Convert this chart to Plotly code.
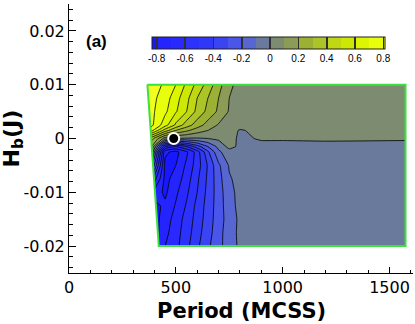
import plotly.graph_objects as go

# ---------------- data ----------------
hb_rows = [-0.02, -0.0175, -0.015, -0.0125, -0.01, -0.0075, -0.005, -0.0025,
           -0.0015, 0.0, 0.0015, 0.0025, 0.005, 0.0075, 0.01]
# left edge of the simulated domain (period) for each H_b row
left_period = [420, 416, 411, 407, 402, 398, 394, 389, 387, 385, 382, 380, 376, 371, 367]
# remaining period columns (common to all rows)
period_cols = [450, 500, 550, 600, 650, 700, 750, 800, 900, 1000, 1200, 1575]

# order parameter, one row per H_b value, first entry = left edge column
z_rows = [
    [-0.80, -0.70, -0.63, -0.53, -0.42, -0.32, -0.23, -0.15, -0.08, -0.05, -0.05, -0.05, -0.05],
    [-0.81, -0.73, -0.64, -0.55, -0.44, -0.34, -0.24, -0.14, -0.08, -0.05, -0.05, -0.05, -0.05],
    [-0.82, -0.75, -0.66, -0.56, -0.46, -0.35, -0.25, -0.15, -0.08, -0.05, -0.05, -0.05, -0.05],
    [-0.82, -0.78, -0.69, -0.59, -0.47, -0.36, -0.25, -0.14, -0.07, -0.05, -0.05, -0.05, -0.05],
    [-0.75, -0.82, -0.72, -0.62, -0.50, -0.37, -0.25, -0.13, -0.07, -0.05, -0.05, -0.05, -0.05],
    [-0.55, -0.83, -0.76, -0.65, -0.52, -0.38, -0.24, -0.11, -0.07, -0.05, -0.05, -0.05, -0.05],
    [-0.25, -0.83, -0.80, -0.68, -0.55, -0.39, -0.22, -0.09, -0.06, -0.05, -0.05, -0.05, -0.05],
    [0.05, -0.78, -0.83, -0.72, -0.55, -0.32, -0.12, -0.04, -0.04, -0.04, -0.04, -0.04, -0.04],
    [0.20, -0.50, -0.60, -0.50, -0.35, -0.20, -0.07, 0.03, -0.02, -0.03, -0.03, -0.03, -0.03],
    [0.35, 0.05, 0.00, -0.01, -0.01, 0.00, 0.02, 0.04, -0.02, 0.01, 0.01, 0.015, 0.01],
    [0.75, 0.45, 0.30, 0.22, 0.15, 0.10, 0.06, 0.05, -0.01, 0.03, 0.04, 0.04, 0.04],
    [0.84, 0.64, 0.48, 0.35, 0.25, 0.16, 0.09, 0.07, 0.05, 0.05, 0.05, 0.05, 0.05],
    [0.84, 0.72, 0.61, 0.50, 0.37, 0.27, 0.18, 0.09, 0.07, 0.06, 0.06, 0.06, 0.06],
    [0.85, 0.75, 0.64, 0.53, 0.40, 0.30, 0.20, 0.10, 0.07, 0.06, 0.06, 0.06, 0.06],
    [0.84, 0.79, 0.70, 0.58, 0.47, 0.36, 0.24, 0.12, 0.07, 0.06, 0.06, 0.06, 0.06],
]

marker_period = [490]
marker_hb = [0.0]

x_tickvals = [0, 500, 1000, 1500]
x_ticktext = ["0", "500", "1000", "1500"]
y_tickvals = [-0.02, -0.01, 0, 0.01, 0.02]
y_ticktext = ["-0.02", "-0.01", "0", "0.01", "0.02"]
cb_tickvals = [-0.8, -0.6, -0.4, -0.2, 0, 0.2, 0.4, 0.6, 0.8]
cb_ticktext = ["-0.8", "-0.6", "-0.4", "-0.2", "0", "0.2", "0.4", "0.6", "0.8"]

# contour levels and legend range
lev_start, lev_end, lev_size = -0.8, 0.8, 0.1
z_lo, z_hi = -0.835, 0.81
# colours of the filled bands, from lowest (< -0.8) to highest (> 0.8)
band_colors = ["#1818ff", "#2424ff", "#2828ff", "#2c32fc", "#3038f8", "#3a44f2",
               "#4a55ea", "#5866d2", "#6a7a9c", "#7d8b70", "#8c9c56", "#9cb034",
               "#acc428", "#c0d814", "#cce804", "#dcf600", "#e8fe0c", "#f0ff20"]
legend_line_color = "#303030"

# ---------------- build figure ----------------
n = len(band_colors)
colorscale = [[i / (n - 1), c] for i, c in enumerate(band_colors)]

span = z_hi - z_lo
half = 0.006
band_edges = [lev_start + k * lev_size for k in range(n - 1)]  # -0.8 .. 0.8


def band_color(v):
    k = 0
    for e in band_edges:
        if v >= e:
            k += 1
    return band_colors[k]


brk = {z_lo, z_hi}
brk.update(e for e in band_edges if z_lo < e < z_hi)
for t in cb_tickvals:
    for v in (t - half, t + half):
        if z_lo < v < z_hi:
            brk.add(v)
brk = sorted(brk)
legend_scale = []
for v0, v1 in zip(brk[:-1], brk[1:]):
    mid = 0.5 * (v0 + v1)
    c = legend_line_color if any(abs(mid - t) < half for t in cb_tickvals) else band_color(mid)
    legend_scale.append([(v0 - z_lo) / span, c])
    legend_scale.append([(v1 - z_lo) / span, c])
legend_scale[0][0] = 0.0
legend_scale[-1][0] = 1.0

grid_x = [[lp] + period_cols for lp in left_period]
grid_y = [[h] * (len(period_cols) + 1) for h in hb_rows]
a_idx = list(range(len(period_cols) + 1))

hidden_axis = dict(showgrid=False, showline=False, showticklabels="none",
                   startline=False, endline=False, minorgridcount=0,
                   smoothing=0, gridcolor="rgba(0,0,0,0)",
                   linecolor="rgba(0,0,0,0)")

# plot-area geometry (pixels) used to place the legend bar
ml, mr, mt, mb = 69, 2, 4, 51
W, H = 415, 324
pw, ph = W - ml - mr, H - mt - mb

fig = go.Figure()
fig.add_trace(go.Carpet(
    a=a_idx, b=hb_rows, x=grid_x, y=grid_y, carpet="c1",
    aaxis=hidden_axis, baxis=hidden_axis,
    xaxis="x", yaxis="y",
))
fig.add_trace(go.Contourcarpet(
    a=a_idx, b=hb_rows, z=z_rows, carpet="c1",
    autocontour=False,
    contours=dict(start=lev_start, end=lev_end, size=lev_size,
                  coloring="fill", showlines=True),
    line=dict(color="black", width=0.8, smoothing=0.3),
    colorscale=colorscale, showscale=False,
))

bx = grid_x[-1] + [row[-1] for row in grid_x[::-1]] + grid_x[0][::-1] + [row[0] for row in grid_x]
by = grid_y[-1] + [row[-1] for row in grid_y[::-1]] + grid_y[0][::-1] + [row[0] for row in grid_y]
fig.add_trace(go.Scatter(x=bx, y=by, mode="lines",
                         line=dict(color="#3ee03e", width=2), hoverinfo="skip",
                         showlegend=False))

fig.add_trace(go.Scatter(x=marker_period, y=marker_hb, mode="markers",
                         marker=dict(color="black", size=11,
                                     line=dict(color="white", width=2)),
                         showlegend=False))
fig.add_trace(go.Scatter(
    x=marker_period, y=marker_hb, mode="markers", hoverinfo="skip",
    marker=dict(color=[z_lo], size=1, opacity=0, colorscale=legend_scale,
                cmin=z_lo, cmax=z_hi, showscale=True,
                colorbar=dict(orientation="h",
                              x=(151.7 - ml) / pw, xanchor="left",
                              y=(H - mb - 37) / ph, yanchor="top",
                              lenmode="fraction", len=233 / pw, thickness=12,
                              xpad=0, ypad=0, outlinecolor="#202020", outlinewidth=1,
                              tickmode="array", tickvals=cb_tickvals,
                              ticktext=cb_ticktext, ticks="",
                              tickfont=dict(family="Liberation Sans", size=10,
                                            color="black"))),
    showlegend=False))

fig.update_layout(
    width=W, height=H,
    margin=dict(l=ml, r=mr, t=mt, b=mb, autoexpand=False),
    paper_bgcolor="white", plot_bgcolor="white",
    showlegend=False,
    font=dict(family="DejaVu Sans", color="black"),
    xaxis=dict(range=[0, 1610], tickmode="array", tickvals=x_tickvals,
               ticktext=x_ticktext, ticks="inside", ticklen=6, tickcolor="black",
               minor=dict(dtick=100, ticks="inside", ticklen=3, tickcolor="black"),
               showline=True, linecolor="black", linewidth=1,
               showgrid=False, zeroline=False,
               tickfont=dict(family="DejaVu Sans", size=16)),
    yaxis=dict(range=[-0.025, 0.025], tickmode="array", tickvals=y_tickvals,
               ticktext=y_ticktext, ticks="inside", ticklen=7, tickcolor="black",
               minor=dict(dtick=0.002, tick0=0, ticks="inside", ticklen=4,
                          tickcolor="black"),
               showline=True, linecolor="black", linewidth=1,
               showgrid=False, zeroline=False,
               tickfont=dict(family="DejaVu Sans", size=16)),
    annotations=[
        dict(text="<b>Period (MCSS)</b>", xref="paper", yref="paper",
             x=0.5, y=(273 - 311) / 269, xanchor="center", yanchor="middle",
             showarrow=False, font=dict(family="DejaVu Sans", size=21)),
        dict(text="<b>H<sub>b</sub>(J)</b>", xref="paper", yref="paper",
             x=(13 - 69) / 344, y=0.5, xanchor="center", yanchor="middle",
             textangle=-90, showarrow=False,
             font=dict(family="DejaVu Sans", size=22)),
        dict(text="<b>(a)</b>", xref="paper", yref="paper",
             x=(96 - 69) / 344, y=(273 - 41) / 269, xanchor="center",
             yanchor="middle", showarrow=False,
             font=dict(family="Liberation Sans", size=17)),
    ],
)

fig.write_html("out.html", config={"displayModeBar": False},
               post_script="document.body.style.margin='0px';")
